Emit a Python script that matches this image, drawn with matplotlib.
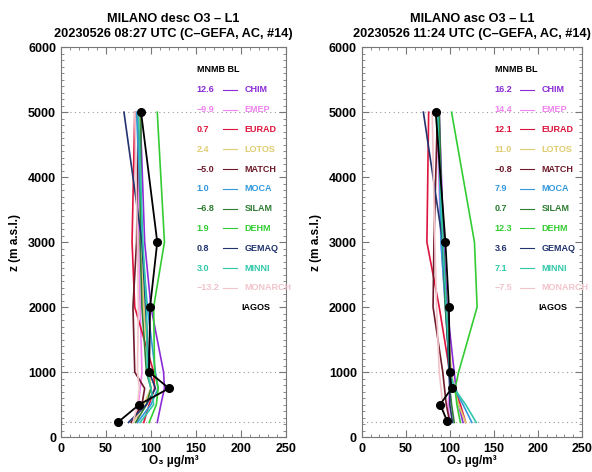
import matplotlib.pyplot as plt
from matplotlib.ticker import MultipleLocator

plt.rcParams['font.family'] = ['Liberation Sans', 'DejaVu Sans']
plt.rcParams['font.weight'] = 'bold'

# model names, colours and MNMB BL scores
models = ["CHIM", "EMEP", "EURAD", "LOTOS", "MATCH", "MOCA", "SILAM", "DEHM", "GEMAQ", "MINNI", "MONARCH"]
colors = ["#8B2BD6", "#EE82EE", "#DC143C", "#E0CC70", "#6E1A2A", "#3399DD",
          "#2E7D32", "#33CC33", "#22336E", "#30C8A8", "#F2C4CC"]
mnmb_desc = ["12.6", "\u22129.9", "0.7", "2.4", "\u22125.0", "1.0", "\u22126.8", "1.9", "0.8", "3.0", "\u221213.2"]
mnmb_asc = ["16.2", "14.4", "12.1", "11.0", "\u22120.8", "7.9", "0.7", "12.3", "3.6", "7.1", "\u22127.5"]

# model levels (m a.s.l.)
z_mod = [225, 500, 750, 1000, 2000, 3000, 5000]

desc_vals = {
    "CHIM":    [107, 111, 115, 114, 100, 93, 88],
    "EMEP":    [85, 86, 88, 90, 88, 86, 87],
    "EURAD":   [92, 98, 104, 103, 82, 79, 82],
    "LOTOS":   [80, 92, 100, 98, 92, 88, 88],
    "MATCH":   [78, 90, 93, 82, 80, 84, 86],
    "MOCA":    [85, 100, 108, 105, 96, 90, 84],
    "SILAM":   [83, 95, 100, 95, 90, 88, 89],
    "DEHM":    [98, 106, 108, 104, 103, 115, 107],
    "GEMAQ":   [75, 95, 105, 98, 94, 90, 70],
    "MINNI":   [88, 103, 100, 96, 95, 91, 86],
    "MONARCH": [80, 85, 87, 85, 86, 85, 82],
}
asc_vals = {
    "CHIM":    [115, 110, 107, 105, 97, 93, 88],
    "EMEP":    [100, 98, 100, 100, 95, 90, 85],
    "EURAD":   [118, 112, 105, 100, 88, 74, 76],
    "LOTOS":   [118, 110, 105, 102, 96, 92, 86],
    "MATCH":   [100, 96, 94, 92, 81, 82, 86],
    "MOCA":    [125, 115, 105, 100, 95, 90, 87],
    "SILAM":   [105, 102, 100, 100, 95, 92, 88],
    "DEHM":    [112, 108, 106, 110, 131, 128, 102],
    "GEMAQ":   [103, 100, 100, 99, 96, 92, 70],
    "MINNI":   [130, 118, 105, 100, 96, 92, 86],
    "MONARCH": [95, 92, 90, 88, 85, 83, 80],
}

# IAGOS observations
z_obs_desc = [225, 500, 750, 1000, 2000, 3000, 5000]
o3_obs_desc = [63, 87, 120, 98, 99, 107, 89]
z_obs_asc = [250, 500, 750, 1000, 2000, 3000, 5000]
o3_obs_asc = [97, 89, 102, 100, 99, 95, 84]

titles = ["MILANO desc O3 \u2013 L1\n20230526 08:27 UTC (C\u2013GEFA, AC, #14)",
          "MILANO asc O3 \u2013 L1\n20230526 11:24 UTC (C\u2013GEFA, AC, #14)"]

fig = plt.figure(figsize=(5.92, 4.72), dpi=100)
ax1 = fig.add_axes([0.103, 0.074, 0.380, 0.826])
ax2 = fig.add_axes([0.611, 0.074, 0.372, 0.826])

panels = [(ax1, desc_vals, mnmb_desc, z_obs_desc, o3_obs_desc, titles[0]),
          (ax2, asc_vals, mnmb_asc, z_obs_asc, o3_obs_asc, titles[1])]

for ax, vals, scores, zo, oo, title in panels:
    for lev in [225, 1000, 5000]:
        ax.axhline(lev, color="#999999", lw=0.8, ls=(0, (1, 3)), zorder=1)
    for name, col in zip(models, colors):
        ax.plot(vals[name], z_mod, color=col, lw=1.2, zorder=2)
    ax.plot(oo, zo, color="black", lw=1.3, marker="o", ms=5.5, zorder=3)

    # legend block
    y0 = 5650
    dy = 305
    ax.text(151, y0, "MNMB BL", fontsize=6.5, fontweight="bold", va="center", ha="left")
    for i, (name, col, sc) in enumerate(zip(models, colors, scores)):
        y = y0 - (i + 1) * dy
        ax.text(151, y, sc, color=col, fontsize=6.5, fontweight="bold", va="center", ha="left")
        ax.plot([180, 196], [y, y], color=col, lw=0.8)
        ax.text(204, y, name, color=col, fontsize=6.5, fontweight="bold", va="center",
                ha="left", clip_on=False)
    ax.text(200, y0 - 12 * dy, "IAGOS", fontsize=6.5, fontweight="bold", va="center", ha="left")

    ax.set_xlim(0, 250)
    ax.set_ylim(0, 6000)
    ax.xaxis.set_major_locator(MultipleLocator(50))
    ax.xaxis.set_minor_locator(MultipleLocator(10))
    ax.yaxis.set_major_locator(MultipleLocator(1000))
    ax.yaxis.set_minor_locator(MultipleLocator(100))
    ax.tick_params(which="both", direction="in", top=True, right=True, color="#777777",
                   labelsize=9)
    ax.tick_params(axis="x", which="major", pad=4)
    ax.tick_params(which="major", length=5, width=0.8)
    ax.tick_params(which="minor", length=2.5, width=0.6)
    for lab in ax.get_xticklabels() + ax.get_yticklabels():
        lab.set_fontweight("bold")
    for sp in ax.spines.values():
        sp.set_color("#777777")
        sp.set_linewidth(0.8)
    ax.set_xlabel("O\u2083 \u00b5g/m\u00b3", fontsize=8.5, fontweight="bold", labelpad=0)
    ax.set_ylabel("z (m a.s.l.)", fontsize=8.5, fontweight="bold", labelpad=5)
    ax.set_title(title, fontsize=9.2, fontweight="bold", pad=7, linespacing=1.4)

fig.savefig("out.png", dpi=100)
